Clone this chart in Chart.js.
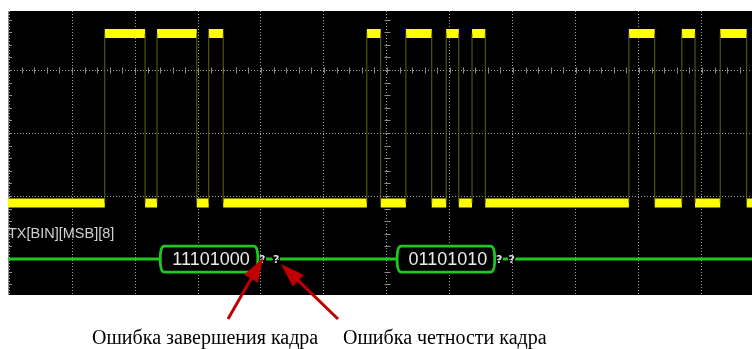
<!DOCTYPE html>
<html>
<head>
<meta charset="utf-8">
<script src="https://cdn.jsdelivr.net/npm/chart.js@4.4.1/dist/chart.umd.min.js"></script>
<style>
  html, body { margin: 0; padding: 0; background: #fff; }
  #wrap { width: 752px; height: 349px; }
</style>
</head>
<body>
<div id="wrap"><canvas id="scope"></canvas></div>
<script>
// time axis in us (100 us / div), level axis in div
const edgeTimes = [152, 216, 235, 298, 317, 340, 568, 590, 630, 671, 694, 714, 735, 756, 984, 1025, 1068, 1089, 1129, 1171];
const levelLow = 0.89;
const levelHigh = 3.58;
const frameStart = [240, 616];
const frameEnd = [395, 771];
const frameLabels = ['11101000', '01101010'];
const errorMarks = [402, 424, 778, 798];
const channelLabel = 'TX[BIN][MSB][8]';
const notes = ['Ошибка завершения кадра', 'Ошибка четности кадра'];

const xMin = -1.6, xMax = 1179.4;
const yMin = -0.571, yMax = 3.937;

// thick level bands + thin edges
const bands = [];
const edges = [];
let t0 = xMin, lvl = levelLow;
edgeTimes.concat([xMax]).forEach(function(t) {
    bands.push({x: t0, y: lvl}, {x: t, y: lvl}, {x: t, y: null});
    if (t < xMax) edges.push({x: t, y: levelLow}, {x: t, y: levelHigh}, {x: t, y: null});
    t0 = t;
    lvl = lvl === levelLow ? levelHigh : levelLow;
});

// bus line, broken by frame boxes and '?' marks
const cuts = [];
frameStart.forEach(function(s, i) { cuts.push([s, frameEnd[i]]); });
errorMarks.forEach(function(m) { cuts.push([m - 6, m + 6]); });
cuts.sort(function(a, b) { return a[0] - b[0]; });
const bus = [];
let from = xMin;
cuts.forEach(function(c) {
    if (c[0] > from) bus.push({x: from, y: 0}, {x: c[0], y: 0}, {x: c[0], y: null});
    from = Math.max(from, c[1]);
});
bus.push({x: from, y: 0}, {x: xMax, y: 0});

const scopeDecor = {
    id: 'scopeDecor',
    beforeDraw(chart) {
        const a = chart.chartArea, c = chart.ctx;
        c.save();
        c.fillStyle = '#000';
        c.fillRect(a.left, a.top, a.right - a.left, a.bottom - a.top);
        c.restore();
    },
    beforeDatasetsDraw(chart) {
        const a = chart.chartArea, c = chart.ctx;
        const xs = chart.scales.x, ys = chart.scales.y;
        c.save();
        c.strokeStyle = '#8a8a8a';
        c.lineWidth = 1;
        // left border
        c.beginPath();
        c.moveTo(a.left + 0.5, a.top); c.lineTo(a.left + 0.5, a.bottom);
        c.stroke();
        c.beginPath();
        const cx = Math.round(xs.getPixelForValue(600)) + 0.5;
        const hy = Math.round(ys.getPixelForValue(3)) + 0.5;
        for (let v = -0.4; v < yMax; v += 0.2) {
            const py = Math.round(ys.getPixelForValue(v)) + 0.5;
            c.moveTo(a.left, py); c.lineTo(a.left + 4, py);
            c.moveTo(cx - 3, py); c.lineTo(cx + 3, py);
        }
        for (let v = 20; v < xMax; v += 20) {
            const px = Math.round(xs.getPixelForValue(v)) + 0.5;
            c.moveTo(px, hy - 3); c.lineTo(px, hy + 3);
        }
        c.stroke();
        c.fillStyle = '#d0d0d0';
        c.font = '14.5px "Liberation Sans", Arial, sans-serif';
        c.textBaseline = 'alphabetic';
        c.fillText(channelLabel, a.left, 238);
        c.restore();
    },
    afterDatasetsDraw(chart) {
        const c = chart.ctx;
        const xs = chart.scales.x, ys = chart.scales.y;
        const my = ys.getPixelForValue(0);
        c.save();
        // frame boxes
        frameStart.forEach(function(s, i) {
            const x0 = xs.getPixelForValue(s), x1 = xs.getPixelForValue(frameEnd[i]);
            const h = 13, p = 4;
            c.beginPath();
            c.moveTo(x0 + p, my - h);
            c.lineTo(x1 - p, my - h);
            c.quadraticCurveTo(x1, my - h, x1, my);
            c.quadraticCurveTo(x1, my + h, x1 - p, my + h);
            c.lineTo(x0 + p, my + h);
            c.quadraticCurveTo(x0, my + h, x0, my);
            c.quadraticCurveTo(x0, my - h, x0 + p, my - h);
            c.closePath();
            c.fillStyle = '#000';
            c.fill();
            c.strokeStyle = '#1ec81e';
            c.lineWidth = 2.8;
            c.stroke();
            c.fillStyle = '#ececec';
            c.font = '18px "Liberation Sans", Arial, sans-serif';
            c.textAlign = 'center';
            c.textBaseline = 'middle';
            c.fillText(frameLabels[i], (x0 + x1) / 2 + 2, my + 1);
        });
        // error marks
        c.font = 'bold 11px "DejaVu Sans", sans-serif';
        c.fillStyle = '#e0e0e0';
        c.textAlign = 'center';
        c.textBaseline = 'middle';
        errorMarks.forEach(function(m) {
            c.fillText('?', xs.getPixelForValue(m), my + 1);
        });
        c.restore();

        // annotations below the screen
        function arrow(x0, y0, x1, y1) {
            const ang = Math.atan2(y1 - y0, x1 - x0);
            const L = 24, W = 8;
            const bx = x1 - L * Math.cos(ang), by = y1 - L * Math.sin(ang);
            c.beginPath();
            c.moveTo(x0, y0); c.lineTo(bx, by);
            c.stroke();
            c.beginPath();
            c.moveTo(x1, y1);
            c.lineTo(bx + W * Math.sin(ang), by - W * Math.cos(ang));
            c.lineTo(bx - W * Math.sin(ang), by + W * Math.cos(ang));
            c.closePath();
            c.fill();
        }
        c.save();
        c.strokeStyle = '#c00000';
        c.fillStyle = '#c00000';
        c.lineWidth = 3;
        arrow(228, 319, 263, 258);
        arrow(338, 319, 281, 264);
        c.fillStyle = '#000';
        c.font = '20px "Liberation Serif", "Times New Roman", serif';
        c.textBaseline = 'alphabetic';
        c.fillText(notes[0], 92, 344);
        c.fillText(notes[1], 343, 344);
        c.restore();
    }
};

new Chart(document.getElementById('scope').getContext('2d'), {
    type: 'line',
    data: {
        datasets: [
            { data: edges, borderColor: 'rgba(110,110,20,0.9)', borderWidth: 1, pointRadius: 0, spanGaps: false },
            { data: bands, borderColor: '#ffff00', borderWidth: 9, borderCapStyle: 'butt', pointRadius: 0, spanGaps: false },
            { data: bus, borderColor: '#1ec81e', borderWidth: 3, borderCapStyle: 'butt', pointRadius: 0, spanGaps: false }
        ]
    },
    options: {
        responsive: true,
        maintainAspectRatio: false,
        animation: false,
        events: [],
        layout: { padding: { left: 8, top: 11, right: 0, bottom: 54 } },
        plugins: { legend: { display: false }, tooltip: { enabled: false } },
        scales: {
            x: {
                type: 'linear', min: xMin, max: xMax,
                ticks: { display: false, stepSize: 100, includeBounds: false },
                grid: { color: '#a0a0a0', lineWidth: 1, drawTicks: false },
                border: { display: false, dash: [1, 2] }
            },
            y: {
                type: 'linear', min: yMin, max: yMax,
                ticks: { display: false, stepSize: 1, includeBounds: false },
                grid: { color: '#a0a0a0', lineWidth: 1, drawTicks: false },
                border: { display: false, dash: [1, 2] }
            }
        }
    },
    plugins: [scopeDecor]
});
</script>
</body>
</html>
